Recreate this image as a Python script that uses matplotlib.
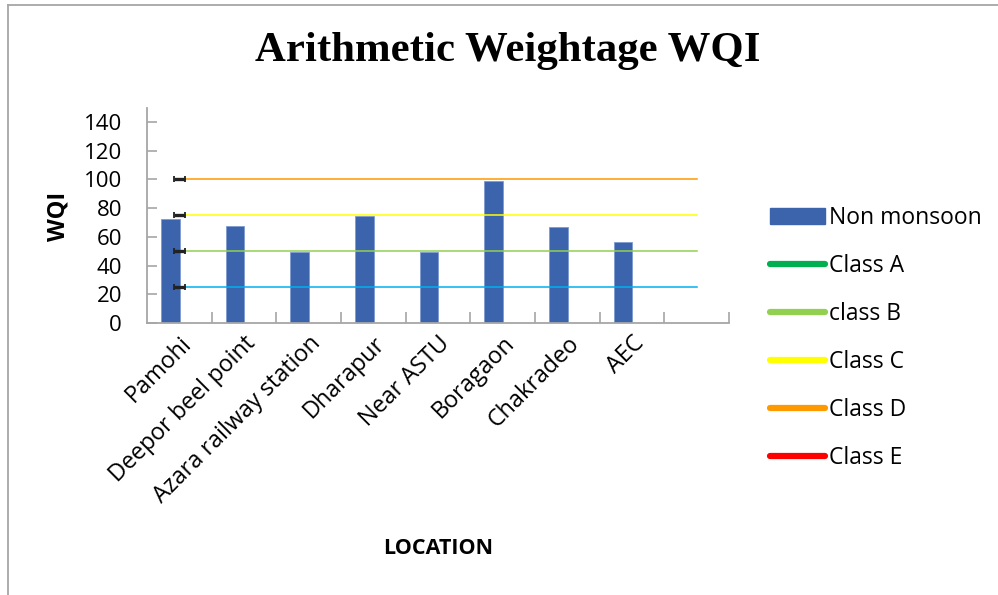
import matplotlib
matplotlib.use("Agg")
import matplotlib.pyplot as plt
from matplotlib.lines import Line2D
from matplotlib.patches import Patch
import matplotlib.transforms as mtransforms
import numpy as np

locations = ["Pamohi", "Deepor beel point", "Azara railway station", "Dharapur",
             "Near ASTU", "Boragaon", "Chakradeo", "AEC", ""]
non_monsoon = [72.4, 67.3, 49.6, 74.5, 49.4, 98.8, 66.8, 56.2]
class_names = ["Class A", "class B", "Class C", "Class D", "Class E"]
class_limits = [25, 50, 75, 100]
class_line_colors = ["#00B0F0", "#92D050", "#FFFF00", "#FF9900"]
class_legend_colors = ["#00B050", "#92D050", "#FFFF00", "#FF9900", "#FF0000"]
yticks = [0, 20, 40, 60, 80, 100, 120, 140]

W, H = 998, 595
fig = plt.figure(figsize=(W / 100, H / 100), dpi=100)
font = "Open Sans"

# outer border (top and left only visible)
fig.add_artist(Line2D([8 / W, 1.0], [1 - 4.5 / H, 1 - 4.5 / H], transform=fig.transFigure,
                      color="#A6A6A6", linewidth=1.3))
fig.add_artist(Line2D([8 / W, 8 / W], [0, 1 - 4.5 / H], transform=fig.transFigure,
                      color="#A6A6A6", linewidth=1.3))

ax = fig.add_axes([147 / W, (H - 323) / H, (729 - 147) / W, (323 - 107.5) / H])
x = np.arange(len(locations))
bar_w = 0.29
ax.bar(x[:len(non_monsoon)] - 0.14, non_monsoon, width=bar_w, color="#3B64AD",
       edgecolor="#7E9BD0", linewidth=0.6, zorder=2)

for lim, col in zip(class_limits, class_line_colors):
    ax.plot([x[0], x[-1]], [lim, lim], color=col, linewidth=1.1, zorder=3)
    ax.errorbar([x[0]], [lim], xerr=0.09, fmt="none", ecolor="#222222",
                elinewidth=2.4, capsize=2.4, capthick=1.3, zorder=4)

ax.set_xlim(-0.5, len(locations) - 0.5)
ax.set_ylim(0, 150)
ax.set_yticks(yticks)
ax.set_yticklabels([str(v) for v in yticks], fontsize=16, family=font)
ax.set_xticks(x)
ax.set_xticklabels(locations, rotation=45, ha="right", rotation_mode="anchor",
                   fontsize=16.8, family=font)
offset = mtransforms.ScaledTranslation(4 / 100, -1 / 100, fig.dpi_scale_trans)
for lbl in ax.get_xticklabels():
    lbl.set_transform(lbl.get_transform() + offset)
ax.set_xticks(np.arange(len(locations)) + 0.5, minor=True)
ax.tick_params(axis="x", which="major", length=0, pad=6)
ax.tick_params(axis="x", which="minor", length=8, direction="in", color="#A6A6A6", width=1.2)
ax.tick_params(axis="y", length=7, direction="in", color="#A6A6A6", width=1.2, pad=18)
for s in ["top", "right"]:
    ax.spines[s].set_visible(False)
for s in ["left", "bottom"]:
    ax.spines[s].set_color("#A6A6A6")
    ax.spines[s].set_linewidth(1.3)

fig.text(508 / W, 1 - 51 / H, "Arithmetic Weightage WQI", ha="center", va="center",
         fontsize=30.8, fontweight="bold", family="Liberation Serif")
fig.text(59 / W, 1 - 216 / H, "WQI", rotation=90, ha="center", va="center",
         fontsize=17, fontweight="bold", family=font)
fig.text(438 / W, 1 - 548 / H, "LOCATION", ha="center", va="center",
         fontsize=15.5, fontweight="bold", family=font)

handles = [Patch(facecolor="#3B64AD", edgecolor="#3B64AD")]
handles += [Line2D([0], [0], color=c, linewidth=4.5, solid_capstyle="round")
            for c in class_legend_colors]
labels = ["Non monsoon"] + class_names
leg = fig.legend(handles, labels, loc="upper left", bbox_to_anchor=(761 / W, 1 - 197 / H),
                 frameon=False, prop={"family": font, "size": 16.5},
                 handlelength=2.4, handletextpad=0.15, labelspacing=1.05,
                 borderaxespad=0)

fig.savefig("out.png", dpi=100)
